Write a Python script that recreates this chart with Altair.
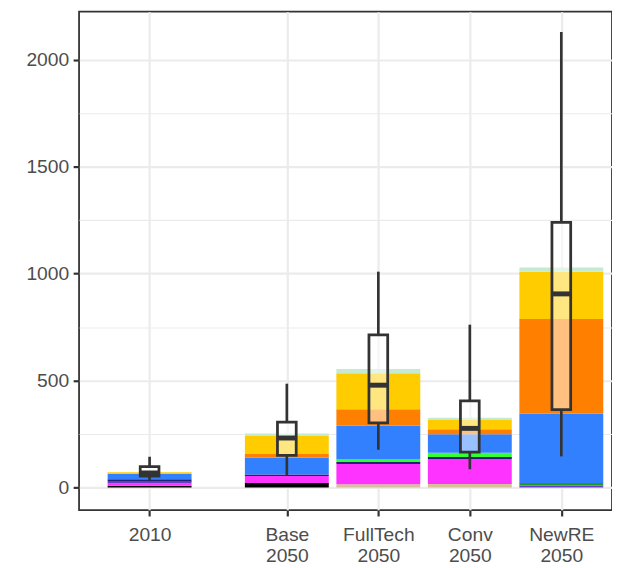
import altair as alt
import pandas as pd

# ---- data ----
scenario_pos = [1, 2.5, 3.5, 4.5, 5.5]
scenario_line1 = ["2010", "Base", "FullTech", "Conv", "NewRE"]
scenario_line2 = ["", "2050", "2050", "2050", "2050"]

techs = ["Coal", "Coal CCS", "Gas", "Gas CCS", "Oil", "Biomass CCS",
         "Biomass", "Hydro", "Nuclear", "Wind", "Solar"]
tech_colors = ["#000000", "#D8BF98", "#FF33FF", "#6A3DCB", "#22226E", "#1F9E1F",
               "#33FF33", "#3380FF", "#FF8000", "#FFCC00", "#C5EAD2"]

v_coal       = [8, 21, 0, 0, 0]
v_coal_ccs   = [0, 0, 15, 16, 0]
v_gas        = [10, 32, 94, 116, 0]
v_gas_ccs    = [8, 0, 0, 0, 9]
v_oil        = [12, 7, 10, 10, 0]
v_bio_ccs    = [0, 0, 0, 0, 12]
v_bio        = [0, 0, 12, 20, 0]
v_hydro      = [26, 79, 158, 87, 325]
v_nuclear    = [1, 17, 77, 23, 442]
v_wind       = [6, 84, 168, 43, 220]
v_solar      = [0, 12, 20, 11, 20]
series = [v_coal, v_coal_ccs, v_gas, v_gas_ccs, v_oil, v_bio_ccs,
          v_bio, v_hydro, v_nuclear, v_wind, v_solar]

box_lower  = [33, 57, 176, 85, 145]
box_q1     = [53, 150, 302, 165, 364]
box_median = [68, 231, 478, 276, 905]
box_q3     = [97, 305, 713, 405, 1240]
box_upper  = [143, 485, 1009, 761, 2130]

y_major = [0, 500, 1000, 1500, 2000]
y_minor = [250, 750, 1250, 1750]

# ---- tables ----
rows = []
for ti, (tech, vals) in enumerate(zip(techs, series)):
    for p, v in zip(scenario_pos, vals):
        rows.append({"pos": p, "tech": tech, "ord": ti, "value": v})
df_bars = pd.DataFrame(rows)

df_box = pd.DataFrame({
    "pos": scenario_pos, "lower": box_lower, "q1": box_q1,
    "median": box_median, "q3": box_q3, "upper": box_upper,
})

# x label expression (multi-line labels)
expr = "''"
for p, a, b in reversed(list(zip(scenario_pos, scenario_line1, scenario_line2))):
    lab = f"['{a}','{b}']" if b else f"'{a}'"
    expr = f"datum.value == {p} ? {lab} : ({expr})"

FONT = "Liberation Sans, Arial, sans-serif"
FS = 19.5
x_scale = alt.Scale(domain=[0.283, 6.0], nice=False, zero=False)
y_scale = alt.Scale(domain=[-106, 2225], nice=False, zero=False)

x_axis = alt.Axis(values=scenario_pos, labelExpr=expr, title=None, grid=True,
                  gridColor="#EBEBEB", gridWidth=2.2, domain=False,
                  tickColor="#333333", tickSize=6, tickWidth=2.2,
                  labelPadding=10, labelFontSize=FS, labelColor="#4D4D4D",
                  labelFont=FONT, labelLineHeight=21, labelFlush=False)
y_axis_major = alt.Axis(values=y_major, format="d", title=None, grid=True, orient="left",
                        gridColor="#EBEBEB", gridWidth=2.2, domain=False,
                        tickColor="#333333", tickSize=6, tickWidth=2.2,
                        labelPadding=4.5, labelFontSize=FS, labelColor="#4D4D4D",
                        labelFont=FONT, labelFlush=False)
y_axis_minor = alt.Axis(values=y_minor, title=None, grid=True, orient="left",
                        gridColor="#EBEBEB", gridWidth=1.1, domain=False,
                        ticks=False, labels=False)

X = alt.X("pos:Q", scale=x_scale, axis=x_axis)

bars = alt.Chart(df_bars).mark_bar(width=85, clip=True).encode(
    x=X,
    y=alt.Y("value:Q", stack="zero", scale=y_scale, axis=y_axis_major),
    color=alt.Color("tech:N", scale=alt.Scale(domain=techs, range=tech_colors), legend=None),
    order=alt.Order("ord:Q"),
)

base = alt.Chart(df_box)
whisk_up = base.mark_rule(color="#333333", strokeWidth=2.7, clip=True).encode(
    x=X, y=alt.Y("q3:Q", scale=y_scale, axis=y_axis_minor), y2="upper:Q")
whisk_lo = base.mark_rule(color="#333333", strokeWidth=2.7, clip=True).encode(
    x=X, y=alt.Y("lower:Q", scale=y_scale, axis=None), y2="q1:Q")
boxes = base.mark_bar(width=19, fill="white", fillOpacity=0.5, stroke="#333333",
                      strokeWidth=2.8, clip=True).encode(
    x=X, y=alt.Y("q1:Q", scale=y_scale, axis=None), y2="q3:Q")
medians = base.mark_tick(orient="horizontal", size=20, thickness=5,
                         color="#333333", opacity=1, clip=True).encode(
    x=X, y=alt.Y("median:Q", scale=y_scale, axis=None))

chart = alt.layer(bars, whisk_up, whisk_lo, boxes, medians).resolve_axis(
    y="independent"
).properties(
    width=540, height=505,
    autosize=alt.AutoSizeParams(type="none"),
    padding={"left": 72, "top": 0, "right": 0, "bottom": 55},
    background="white",
).configure_view(stroke="#333333", strokeWidth=1.8)

chart.save("out.html", embed_options={"renderer": "svg", "actions": False})
